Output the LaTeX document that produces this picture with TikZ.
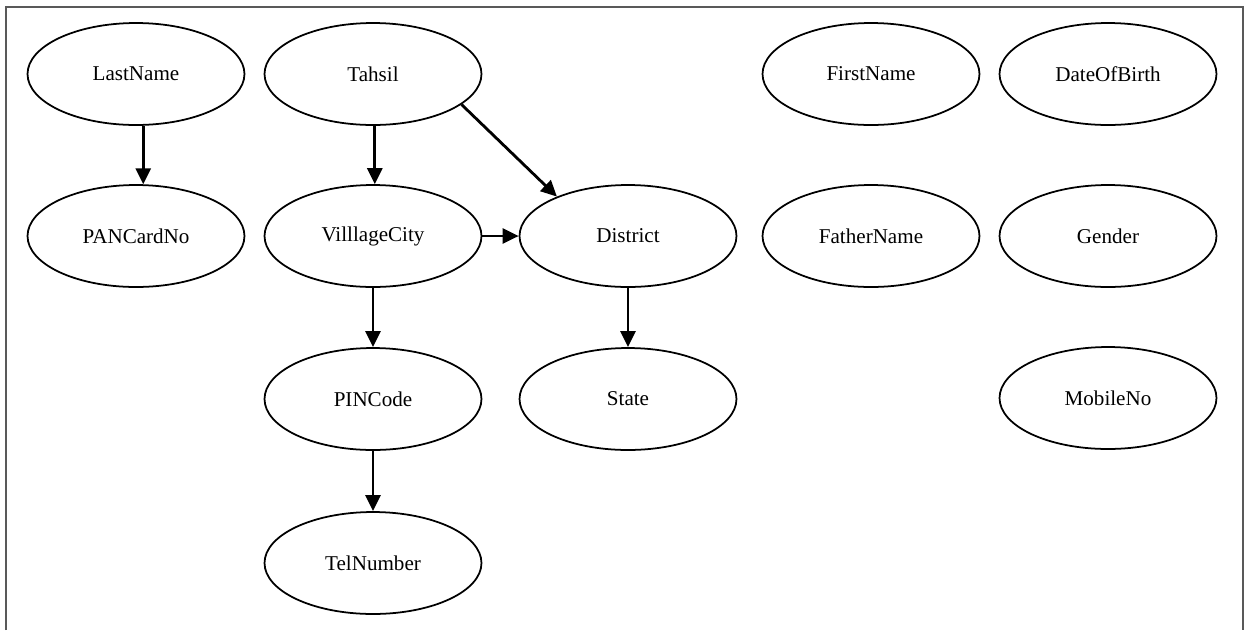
\documentclass[tikz,border=0pt]{standalone}
\usepackage{fontspec}
\setmainfont{Liberation Serif}
\usepackage{tikz}
\usetikzlibrary{arrows.meta,shapes.geometric}

\begin{document}
\begin{tikzpicture}[x=0.02cm, y=-0.02cm, >={Triangle[length=0.32cm,width=0.3cm]},
    attr/.style={ellipse, draw, line width=1pt, minimum width=4.34cm, minimum height=2.04cm, inner sep=0pt, font=\fontsize{12pt}{14pt}\selectfont},
    dep/.style={->, line width=1.6pt}]
    \useasboundingbox (0,0) rectangle (1251,630);
    \draw [black!65, line width=1.1pt] (6,630) -- (6,7) -- (1243,7) -- (1243,630);

    % Nodes {row 1 .. row 4}
    \node [attr]    (lname)    at (136,74)   {LastName};
    \node [attr]    (tahsil)   at (373,74)   {Tahsil};
    \node [attr]    (fname)    at (871,74)   {FirstName};
    \node [attr]    (dob)      at (1108,74)  {DateOfBirth};
    \node [attr]    (pan)      at (136,236)  {PANCardNo};
    \node [attr]    (village)  at (373,236)  {VilllageCity};
    \node [attr]    (district) at (628,236)  {District};
    \node [attr]    (father)   at (871,236)  {FatherName};
    \node [attr]    (gender)   at (1108,236) {Gender};
    \node [attr]    (pin)      at (373,399)  {PINCode};
    \node [attr]    (state)    at (628,399)  {State};
    \node [attr]    (mobile)   at (1108,398) {MobileNo};
    \node [attr]    (tel)      at (373,563)  {TelNumber};

    % Paths
    \path [dep] (lname.-82)    edge (pan.82);
    \path [dep] (tahsil.-88)   edge (village.88);
    \path [dep] (tahsil.-19)   edge (district.151);
    \path [dep] (village.east) edge (district.west);
    \path [dep] (village)      edge (pin);
    \path [dep] (district)     edge (state);
    \path [dep] (pin)          edge (tel);

\end{tikzpicture}
\end{document}
